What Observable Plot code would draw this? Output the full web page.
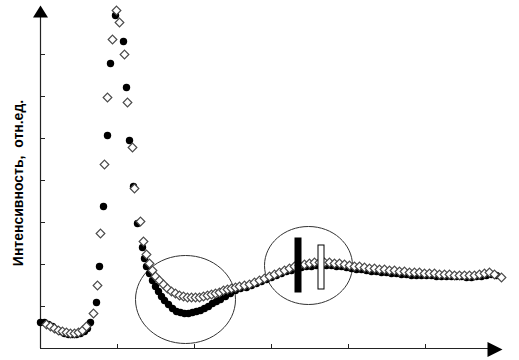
<!DOCTYPE html>
<html>
<head>
<meta charset="utf-8">
<script src="https://cdn.jsdelivr.net/npm/d3@7"></script>
<script src="https://cdn.jsdelivr.net/npm/@observablehq/plot@0.6"></script>
<style>
  html, body { margin: 0; padding: 0; background: #fff; }
</style>
</head>
<body>
<div id="chart"></div>
<script>
// Series 1: filled black circles (x, intensity), arbitrary units
const blackX = [0,4,8,12,16,20,24,28,32,36,40,44,47,50,56,59,63,67,70,75,83,86,89,93,97,
  102,104,106,109,112,115,118,121,124,128,132,136,140,144,148,152,156,160,164,168,172,176,180,185,190,195,200,
  206,211,216,221,226,231,236,241,246,251,256,261,266,271,276,281,286,291,296,301,306,311,316,321,326,331,336,341,346,351,356,361,366,371,376,381,386,391,396,401,406,411,416,421,426,431,436,441,446,451,456];
const blackY = [26,26,24,22,19,17,15,14,14,14,15,17,20,26,46,82,142,213,285,333,307,261,208,162,125,
  101,90,82,75,68,62,57,52,48,44,40,37,36,35,35,36,37,38,40,42,45,47,49,52,55,58,60,
  61,63,65,67,69,71,73,75,77,78,80,81,82,82,83,83,83,83,82,82,81,80,79,79,78,77,77,76,76,75,75,74,74,73,73,73,73,73,72,72,72,72,72,72,71,71,72,72,73,74,73];

// Series 2: open diamonds
const diamondX = [6,10,14,18,22,26,30,34,38,42,46,53,57,60,64,67,72,76,79,84,87,92,94,
  100,103,106,109,112,115,119,123,127,131,135,139,143,147,151,155,159,163,167,171,175,179,183,187,191,195,199,
  204,209,214,219,224,229,234,239,244,249,254,259,264,269,274,279,284,289,294,299,304,309,314,319,324,329,334,339,344,349,354,359,364,369,374,379,384,389,394,399,404,409,414,419,424,429,434,439,444,449,454,461];
const diamondY = [24,22,20,18,17,16,15,15,16,18,22,35,63,115,184,251,309,338,326,294,246,201,160,
  127,107,94,85,78,72,68,64,60,57,55,53,52,51,51,51,51,52,53,54,55,56,58,59,60,61,62,
  63,64,66,68,70,72,74,76,78,80,82,83,84,85,86,86,86,86,85,85,84,83,82,82,81,80,80,79,79,78,78,77,77,76,76,76,75,75,75,74,74,74,73,73,73,73,73,74,75,76,74,71];

// Axis ticks
const xTicks = [77,154,231,308,385];
const yTicks = [42,84,126,168,210,252,294];

// Highlight ellipses (centre in data units, radii in data units)
const ellipseCX = [145,268];
const ellipseCY = [49,83];
const ellipseRX = [50,44];
const ellipseRY = [44,39];

// Vertical marker bars
const barX1 = [255,278], barX2 = [261,284], barY1 = [56,59], barY2 = [110,103];
const barFill = ["#000","#fff"];

const yLabel = "Интенсивность,  отн.ед.";

const black = blackX.map((x,i)=>({x, y: blackY[i]}));
const diamonds = diamondX.map((x,i)=>({x, y: diamondY[i]}));
const ellipses = ellipseCX.map((cx,i)=>({x: cx, y: ellipseCY[i], rx: ellipseRX[i], ry: ellipseRY[i]}));
const bars = barX1.map((x1,i)=>({x1, x2: barX2[i], y1: barY1[i], y2: barY2[i], fill: barFill[i]}));

function ellipseSymbol(rx, ry) {
  const k = 0.5523;
  return {draw(ctx) {
    ctx.moveTo(rx, 0);
    ctx.bezierCurveTo(rx, ry*k, rx*k, ry, 0, ry);
    ctx.bezierCurveTo(-rx*k, ry, -rx, ry*k, -rx, 0);
    ctx.bezierCurveTo(-rx, -ry*k, -rx*k, -ry, 0, -ry);
    ctx.bezierCurveTo(rx*k, -ry, rx, -ry*k, rx, 0);
    ctx.closePath();
  }};
}
const upArrow = {draw(ctx){ ctx.moveTo(0,0); ctx.lineTo(-7.5,12); ctx.lineTo(7.5,12); ctx.closePath(); }};
const rightArrow = {draw(ctx){ ctx.moveTo(0,0); ctx.lineTo(-15,-7.5); ctx.lineTo(-15,7.5); ctx.closePath(); }};

const xDomain = [0, 462], yDomain = [0, 343];

const chart = Plot.plot({
  width: 519,
  height: 360,
  marginLeft: 40,
  marginRight: 17,
  marginTop: 5,
  marginBottom: 12,
  x: {domain: xDomain, axis: null},
  y: {domain: yDomain, axis: null},
  style: {fontFamily: "'Liberation Sans', Arial, sans-serif", background: "#fff"},
  marks: [
    // axes
    Plot.ruleX([0], {y1: 0, y2: 333, stroke: "#222", strokeWidth: 1.2}),
    Plot.ruleY([0], {x1: 0, x2: 450, stroke: "#222", strokeWidth: 1.2}),
    Plot.ruleY(yTicks, {x1: 0, x2: 5, stroke: "#222"}),
    Plot.ruleX(xTicks, {y1: 0, y2: 4, stroke: "#222"}),
    Plot.dot([{x: 0, y: 343}], {x: "x", y: "y", symbol: upArrow, fill: "#000", stroke: "none"}),
    Plot.dot([{x: 462, y: -1}], {x: "x", y: "y", symbol: rightArrow, fill: "#000", stroke: "none"}),
    // ellipses
    ...ellipses.map(e => Plot.dot([e], {x: "x", y: "y", symbol: ellipseSymbol(e.rx, e.ry), fill: "none", stroke: "#333", strokeWidth: 1})),
    // data
    Plot.dot(black, {x: "x", y: "y", r: 3.7, fill: "#000", stroke: "none"}),
    Plot.dot(diamonds, {x: "x", y: "y", symbol: "diamond2", r: 3.9, fill: "#fff", stroke: "#4a4a4a", strokeWidth: 1.2}),
    // bars
    Plot.rect(bars, {x1: "x1", x2: "x2", y1: "y1", y2: "y2", fill: "fill", stroke: "#000", strokeWidth: 1}),
    // y label
    Plot.text([yLabel], {frameAnchor: "left", textAnchor: "middle", dx: -22, dy: 6, rotate: -90, fontSize: 14, fontWeight: "bold", fill: "#000", style: {letterSpacing: "1.3px"}})
  ]
});
document.getElementById("chart").appendChild(chart);
</script>
</body>
</html>
